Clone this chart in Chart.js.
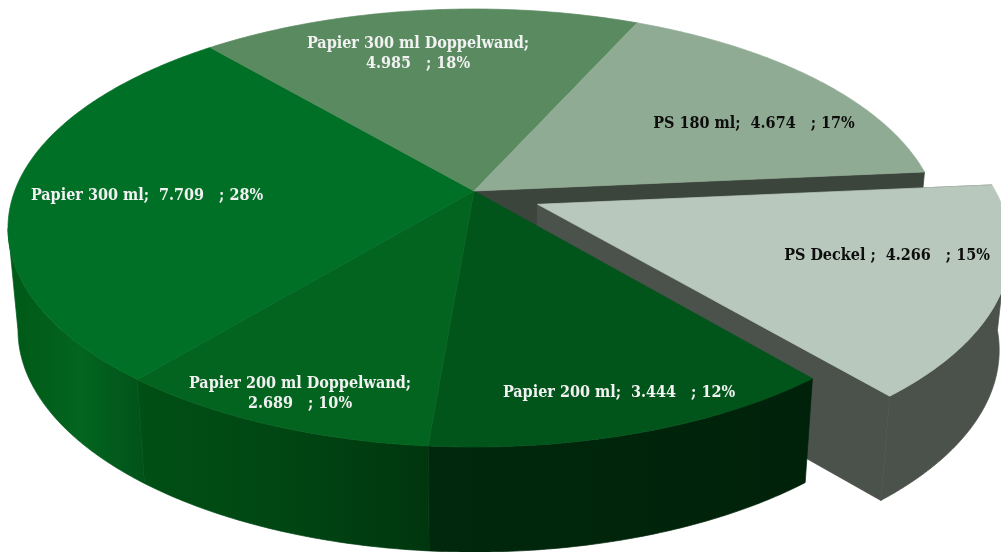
<!DOCTYPE html>
<html>
<head>
<meta charset="utf-8">
<style>
  html, body { margin: 0; padding: 0; background: #fff; overflow: hidden; }
  canvas { display: block; }
</style>
<script src="https://cdn.jsdelivr.net/npm/chart.js@4"></script>
</head>
<body>
<canvas id="chartCanvas" width="1001" height="552"></canvas>
<script>
const categories = ['PS Deckel ', 'Papier 200 ml', 'Papier 200 ml Doppelwand', 'Papier 300 ml', 'Papier 300 ml Doppelwand', 'PS 180 ml'];
const values = [4.266, 3.444, 2.689, 7.709, 4.985, 4.674];

const topColors = ['#b8c8bc', '#01551b', '#03641f', '#007026', '#5a8a60', '#90ab93'];
const wallColors = [
    ['#4b514b', '#4b514b', '#4b514b'],
    ['#00280c', '#00250b', '#00220a'],
    ['#004f15', '#004613', '#00360e'],
    ['#005a18', '#03651f', '#01521a'],
    ['#3c453c', '#3c453c', '#3c453c'],
    ['#3c453c', '#3c453c', '#3c453c']
];
const labelColors = ['#0d0d0d', '#f2f2f2', '#f2f2f2', '#f2f2f2', '#f2f2f2', '#0d0d0d'];
const labelSpots = [[887, 260], [619, 397], [300, 388], [147, 200], [418, 48], [754, 128]];
const twoLines = [false, false, true, false, true, false];

// the flat disc seen in perspective
const topRim = { cx: 474, cy: 228, rx: 466, ry: 219 };
const lowRim = { cx: 474, cy: 330, rx: 456, ry: 222 };
const tilt = -0.169;
const explodeShift = { u: 0.137, v: 0.062 };
const explodedIndex = 0;
const cutWallIndex = 5;

function project(u, v) {
    const w = 1 + tilt * v;
    return { X: u * Math.sqrt(1 - tilt * tilt) / w, Y: (v + tilt) / w };
}

function onRim(rim, p) {
    return [rim.cx + p.X * rim.rx, rim.cy + p.Y * rim.ry];
}

function arcPoints(start, end, shift) {
    const pts = [];
    const steps = Math.max(2, Math.ceil((end - start) / 0.01));
    for (let i = 0; i <= steps; i++) {
        const a = start + (end - start) * i / steps;
        pts.push(project(Math.cos(a) + shift.u, Math.sin(a) + shift.v));
    }
    return pts;
}

function fillPoly(ctx, pts, fill) {
    ctx.beginPath();
    pts.forEach((p, i) => i ? ctx.lineTo(p[0], p[1]) : ctx.moveTo(p[0], p[1]));
    ctx.closePath();
    ctx.fillStyle = fill;
    ctx.strokeStyle = fill;
    ctx.lineWidth = 0.7;
    ctx.fill();
    ctx.stroke();
}

function drawTop(ctx, arc, shift) {
    const apex = project(shift.u, shift.v);
    const rim = arcPoints(arc.startAngle, arc.endAngle, shift);
    const pts = [onRim(topRim, apex)].concat(rim.map(p => onRim(topRim, p)));
    fillPoly(ctx, pts, arc.options.backgroundColor);
}

function drawRimWall(ctx, arc, shift, shades) {
    // only the part of the rim that faces the viewer
    const rim = arcPoints(arc.startAngle, arc.endAngle, shift).filter(p => p.Y >= 0);
    if (rim.length < 2) return;
    const upper = rim.map(p => onRim(topRim, p));
    const lower = rim.map(p => onRim(lowRim, p)).reverse();
    const xs = lower.map(p => p[0]);
    const grad = ctx.createLinearGradient(Math.min(...xs), 0, Math.max(...xs), 0);
    grad.addColorStop(0, shades[0]);
    grad.addColorStop(0.5, shades[1]);
    grad.addColorStop(1, shades[2]);
    fillPoly(ctx, upper.concat(lower), grad);
}

function drawCutWall(ctx, angle, shift, fill) {
    const apex = project(shift.u, shift.v);
    const edge = project(Math.cos(angle) + shift.u, Math.sin(angle) + shift.v);
    fillPoly(ctx, [onRim(topRim, apex), onRim(topRim, edge), onRim(lowRim, edge), onRim(lowRim, apex)], fill);
}

const pie3d = {
    id: 'pie3d',
    beforeDatasetDraw(chart, args) {
        const ctx = chart.ctx;
        const arcs = args.meta.data;
        const none = { u: 0, v: 0 };
        const out = arcs[explodedIndex];

        // wall left open by the pulled out slice
        drawCutWall(ctx, arcs[cutWallIndex].endAngle, none, wallColors[cutWallIndex][0]);

        drawCutWall(ctx, out.startAngle, explodeShift, wallColors[explodedIndex][0]);
        drawCutWall(ctx, out.endAngle, explodeShift, wallColors[explodedIndex][0]);
        drawRimWall(ctx, out, explodeShift, wallColors[explodedIndex]);
        drawTop(ctx, out, explodeShift);

        arcs.forEach((arc, i) => {
            if (i !== explodedIndex) drawRimWall(ctx, arc, none, wallColors[i]);
        });
        arcs.forEach((arc, i) => {
            if (i !== explodedIndex) drawTop(ctx, arc, none);
        });
        return false;
    },
    afterDraw(chart) {
        const ctx = chart.ctx;
        const total = values.reduce((a, b) => a + b, 0);
        ctx.save();
        ctx.font = 'bold 16px "DejaVu Serif Condensed", "DejaVu Serif", serif';
        ctx.textAlign = 'center';
        ctx.textBaseline = 'alphabetic';
        categories.forEach((name, i) => {
            const num = values[i].toFixed(3) + '   ; ' + Math.round(values[i] / total * 100) + '%';
            ctx.fillStyle = labelColors[i];
            const [x, y] = labelSpots[i];
            if (twoLines[i]) {
                ctx.fillText(name + ';', x, y);
                ctx.fillText(num, x, y + 20);
            } else {
                ctx.fillText(name + ';  ' + num, x, y);
            }
        });
        ctx.restore();
    }
};

new Chart(document.getElementById('chartCanvas'), {
    type: 'pie',
    data: {
        labels: categories,
        datasets: [{ data: values, backgroundColor: topColors, borderWidth: 0 }]
    },
    options: {
        responsive: false,
        animation: false,
        events: [],
        rotation: 84.8,
        plugins: { legend: { display: false }, tooltip: { enabled: false } }
    },
    plugins: [pie3d]
});
</script>
</body>
</html>
